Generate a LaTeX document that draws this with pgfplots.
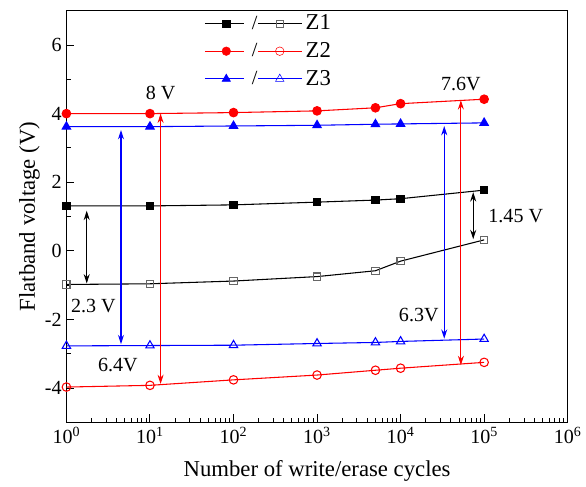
\documentclass[border=0pt]{standalone}
\usepackage{fontspec}
\setmainfont{Liberation Serif}
\usepackage{pgfplots}
\pgfplotsset{compat=1.18}
\usetikzlibrary{arrows.meta}

\pgfplotstableread{
n      zonef  zoneo  ztwof  ztwoo  zthrf  zthro
1      1.31  -0.98   4.00  -3.97   3.62  -2.77
10     1.31  -0.96   4.00  -3.92   3.62  -2.76
100    1.34  -0.88   4.03  -3.76   3.64  -2.75
1000   1.42  -0.75   4.08  -3.62   3.66  -2.70
5000   1.48  -0.58   4.17  -3.48   3.69  -2.67
10000  1.52  -0.30   4.29  -3.42   3.70  -2.64
100000 1.77   0.32   4.42  -3.25   3.73  -2.57
}\cycles

\tikzset{
  dbl/.style={{Stealth[length=7pt,width=4.5pt]}-{Stealth[length=7pt,width=4.5pt]}, line width=0.8pt},
  lbl/.style={font=\fontsize{15}{17}\selectfont, inner sep=0pt}
}

\begin{document}
\begin{tikzpicture}
\begin{axis}[
  scale only axis,
  width=375pt, height=308pt,
  xmode=log,
  xmin=1, xmax=1e6,
  ymin=-5, ymax=7,
  xtick={1,10,100,1000,10000,100000,1000000},
  xticklabels={10\textsuperscript{0},10\textsuperscript{1},10\textsuperscript{2},10\textsuperscript{3},10\textsuperscript{4},10\textsuperscript{5},10\textsuperscript{6}},
  ytick={-4,-2,0,2,4,6},
  yticklabels={-4,-2,0,2,4,6},
  minor ytick={-5,-3,-1,1,3,5,7},
  tick pos=left,
  tick align=inside,
  major tick length=6pt,
  minor tick length=3.5pt,
  axis line style={line width=0.9pt},
  every tick/.style={black, line width=0.7pt},
  tick label style={font=\fontsize{15}{17}\selectfont},
  label style={font=\fontsize{17}{20}\selectfont},
  xlabel={Number of write/erase cycles},
  ylabel={Flatband voltage (V)},
  xlabel style={yshift=-6pt},
  ylabel style={yshift=-3pt},
  legend style={draw=none, fill=none, at={(rel axis cs:0.272,1.0)}, anchor=north west,
    font=\fontsize{17}{19}\selectfont, row sep=4pt, inner sep=1pt},
  legend cell align=left,
]
% legend
\addlegendimage{legend image code/.code={
  \draw[black, line width=0.8pt] (0pt,0pt) -- (29pt,0pt);
  \draw[black, mark=square*, mark size=2.7pt] plot coordinates {(16pt,0pt)};
  \node[inner sep=0pt, font=\fontsize{15}{17}\selectfont] at (35pt,0pt) {/};
  \draw[black, line width=0.8pt] (40pt,0pt) -- (73pt,0pt);
  \draw[black!60, mark=square, mark size=2.7pt, mark options={fill=white}] plot coordinates {(56pt,0pt)};
}}
\addlegendentry{Z1}
\addlegendimage{legend image code/.code={
  \draw[red, line width=0.8pt] (0pt,0pt) -- (29pt,0pt);
  \draw[red, mark=*, mark size=3.2pt] plot coordinates {(16pt,0pt)};
  \node[inner sep=0pt, font=\fontsize{15}{17}\selectfont] at (35pt,0pt) {/};
  \draw[red, line width=0.8pt] (40pt,0pt) -- (73pt,0pt);
  \draw[red, mark=o, mark size=3.2pt, mark options={fill=white}] plot coordinates {(56pt,0pt)};
}}
\addlegendentry{Z2}
\addlegendimage{legend image code/.code={
  \draw[blue, line width=0.8pt] (0pt,0pt) -- (29pt,0pt);
  \draw[blue, mark=triangle*, mark size=3.6pt] plot coordinates {(16pt,0pt)};
  \node[inner sep=0pt, font=\fontsize{15}{17}\selectfont] at (35pt,0pt) {/};
  \draw[blue, line width=0.8pt] (40pt,0pt) -- (73pt,0pt);
  \draw[blue, mark=triangle, mark size=3.6pt, mark options={fill=white}] plot coordinates {(56pt,0pt)};
}}
\addlegendentry{Z3}

% data
\addplot[forget plot, black, line width=0.8pt, mark=square*, mark size=2.7pt] table[x=n, y=zonef] {\cycles};
\addplot[forget plot, black, line width=0.8pt, mark=square, mark size=2.7pt, mark options={draw=black!60, fill=white}] table[x=n, y=zoneo] {\cycles};
\addplot[forget plot, red, line width=0.8pt, mark=*, mark size=3.2pt] table[x=n, y=ztwof] {\cycles};
\addplot[forget plot, red, line width=0.8pt, mark=o, mark size=3.2pt, mark options={fill=white}] table[x=n, y=ztwoo] {\cycles};
\addplot[forget plot, blue, line width=0.8pt, mark=triangle*, mark size=3.6pt] table[x=n, y=zthrf] {\cycles};
\addplot[forget plot, blue, line width=0.8pt, mark=triangle, mark size=3.6pt, mark options={fill=white}] table[x=n, y=zthro] {\cycles};

% annotations
\draw[dbl, black] (axis cs:1.75,1.17) -- (axis cs:1.75,-0.95);
\draw[dbl, blue]  (axis cs:4.5,3.52) -- (axis cs:4.5,-2.72);
\draw[dbl, red]   (axis cs:13.4,4.0) -- (axis cs:13.4,-3.88);
\draw[dbl, blue]  (axis cs:33300,3.64) -- (axis cs:33300,-2.56);
\draw[dbl, red]   (axis cs:52700,4.39) -- (axis cs:52700,-3.33);
\draw[dbl, black] (axis cs:74000,1.71) -- (axis cs:74000,0.34);

\node[lbl] at (axis cs:13.4,4.6) {8 V};
\node[lbl] at (axis cs:2.1,-1.62) {2.3 V};
\node[lbl] at (axis cs:4.13,-3.32) {6.4V};
\node[lbl] at (axis cs:52700,4.87) {7.6V};
\node[lbl] at (axis cs:239000,1.02) {1.45 V};
\node[lbl] at (axis cs:16500,-1.87) {6.3V};
\end{axis}
\path ([xshift=-11pt]current axis.outer west) ([yshift=8pt]current axis.north);
\end{tikzpicture}
\end{document}
